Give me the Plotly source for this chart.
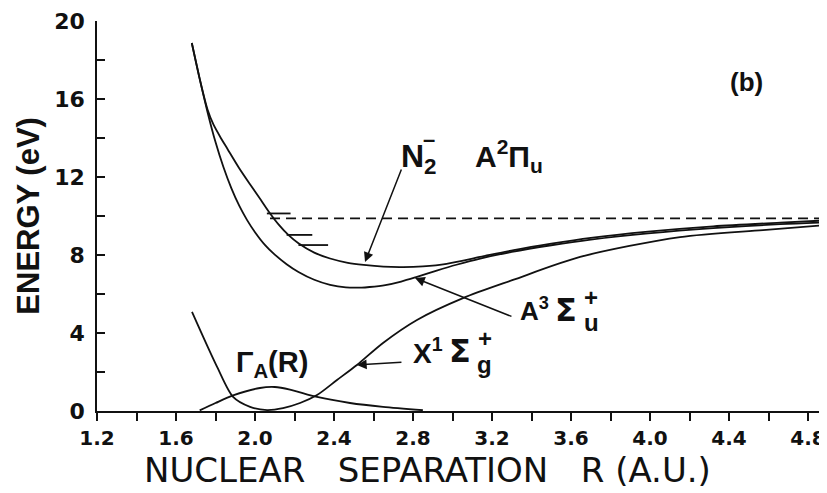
import plotly.graph_objects as go

# ---- data ----
r_anion = [1.68, 1.72, 1.76, 1.79, 1.83, 1.86, 1.92, 1.98, 2.03, 2.07, 2.12, 2.17, 2.22, 2.30, 2.38, 2.47, 2.55, 2.65, 2.75, 2.85, 2.97, 3.14, 3.31, 3.50, 3.70, 3.99, 4.32, 4.66, 4.90]
e_anion = [18.87, 17.03, 15.45, 14.68, 13.95, 13.45, 12.45, 11.55, 10.82, 10.22, 9.56, 9.02, 8.60, 8.12, 7.82, 7.60, 7.49, 7.40, 7.38, 7.42, 7.55, 7.90, 8.25, 8.58, 8.88, 9.20, 9.47, 9.66, 9.78]

r_a3 = [1.68, 1.72, 1.76, 1.80, 1.84, 1.88, 1.92, 1.96, 2.00, 2.05, 2.10, 2.16, 2.22, 2.30, 2.38, 2.46, 2.54, 2.58, 2.66, 2.74, 2.82, 2.92, 3.02, 3.14, 3.30, 3.50, 3.70, 3.99, 4.32, 4.66, 4.90]
e_a3 = [18.87, 17.03, 15.31, 13.79, 12.51, 11.43, 10.53, 9.79, 9.17, 8.52, 8.02, 7.53, 7.13, 6.73, 6.47, 6.34, 6.33, 6.36, 6.46, 6.64, 6.88, 7.20, 7.50, 7.82, 8.16, 8.50, 8.79, 9.11, 9.38, 9.58, 9.68]

r_x1 = [1.681, 1.808, 1.889, 1.975, 2.061, 2.142, 2.228, 2.314, 2.415, 2.516, 2.648, 2.820, 3.053, 3.306, 3.646, 4.152, 4.572, 4.900]
e_x1 = [5.08, 2.26, 0.72, 0.21, 0.05, 0.15, 0.41, 0.82, 1.59, 2.36, 3.49, 4.67, 5.79, 6.72, 7.90, 8.92, 9.28, 9.54]

r_gamma = [1.72, 1.80, 1.889, 2.025, 2.10, 2.177, 2.314, 2.481, 2.648, 2.85]
g_gamma = [0.03, 0.41, 0.80, 1.18, 1.23, 1.10, 0.72, 0.41, 0.21, 0.04]

dissoc_r = [2.076, 4.90]
dissoc_e = [9.88, 9.88]

vib_r_start = [2.060, 2.160, 2.220]
vib_r_end = [2.180, 2.290, 2.370]
vib_e = [10.13, 9.03, 8.51]

x_major = [1.2, 1.6, 2.0, 2.4, 2.8, 3.2, 3.6, 4.0, 4.4, 4.8]
x_labels = ["1.2", "1.6", "2.0", "2.4", "2.8", "3.2", "3.6", "4.0", "4.4", "4.8"]
y_major = [0, 4, 8, 12, 16, 20]
y_labels = ["0", "4", "8", "12", "16", "20"]

BLACK = "#111111"
LW = 1.8
FONT = "Liberation Sans"
TICKFONT = "DejaVu Sans"

fig = go.Figure()

def curve(x, y):
    fig.add_trace(go.Scatter(x=x, y=y, mode="lines",
                             line=dict(color=BLACK, width=LW, shape="spline", smoothing=0.8),
                             showlegend=False, hoverinfo="skip"))

curve(r_anion, e_anion)
curve(r_a3, e_a3)
curve(r_x1, e_x1)
curve(r_gamma, g_gamma)
fig.add_trace(go.Scatter(x=dissoc_r, y=dissoc_e, mode="lines",
                         line=dict(color=BLACK, width=LW, dash="10px,6px"),
                         showlegend=False, hoverinfo="skip"))
for xs, xe, ev in zip(vib_r_start, vib_r_end, vib_e):
    fig.add_trace(go.Scatter(x=[xs, xe], y=[ev, ev], mode="lines",
                             line=dict(color=BLACK, width=LW),
                             showlegend=False, hoverinfo="skip"))

def label(x, y, text, size=26, xanchor="left", yanchor="middle", family=FONT):
    fig.add_annotation(x=x, y=y, xref="x", yref="y", text=text, showarrow=False,
                       xanchor=xanchor, yanchor=yanchor,
                       font=dict(family=family, size=size, color=BLACK, weight="bold"))

def arrow(x_tail, y_tail, x_head, y_head):
    fig.add_annotation(x=x_head, y=y_head, ax=x_tail, ay=y_tail, xref="x", yref="y",
                       axref="x", ayref="y", text="", showarrow=True,
                       arrowhead=2, arrowsize=1.3, arrowwidth=1.5, arrowcolor=BLACK)

# N2- A2Pi_u
label(2.73, 12.95, "N<sub>2</sub>", size=32)
label(2.840, 13.90, "–", size=22)
label(3.105, 13.10, "A<sup>2</sup>Π<sub>u</sub>", size=30)
# A3Sigma_u+
label(3.332, 5.18, "A<sup>3</sup>", size=26)
label(3.510, 5.18, "Σ", size=32, family="DejaVu Sans")
label(3.655, 5.80, "+", size=24)
label(3.655, 4.55, "u", size=24)
# X1Sigma_g+
label(2.790, 3.08, "X<sup>1</sup>", size=28)
label(2.970, 3.08, "Σ", size=32, family="DejaVu Sans")
label(3.120, 3.72, "+", size=24)
label(3.115, 2.40, "g", size=24)
# Gamma_A(R)
label(1.895, 2.42, "Γ<sub>A</sub>(R)", size=29)
# (b)
label(4.49, 16.87, "(b)", size=26, xanchor="center")

arrow(2.744, 12.46, 2.557, 7.64)
arrow(3.306, 4.82, 2.810, 6.82)
arrow(2.749, 2.51, 2.516, 2.36)

# axis titles as annotations
fig.add_annotation(x=-0.095, y=0.5, xref="paper", yref="paper", text="ENERGY (eV)",
                   textangle=-90, showarrow=False, xanchor="center", yanchor="middle",
                   font=dict(family=FONT, size=31, color=BLACK, weight="bold"))
fig.add_annotation(x=(427 - 97) / 730, y=-(470 - 411) / 390, xref="paper", yref="paper",
                   text="NUCLEAR\u00a0\u00a0\u00a0SEPARATION\u00a0\u00a0\u00a0R\u00a0(A.U.)",
                   showarrow=False, xanchor="center", yanchor="middle",
                   font=dict(family="DejaVu Sans", size=34, color=BLACK))

# the page body adds an 8px margin, so the figure is sized to sit where the reference does
fig.update_layout(
    width=819, height=485,
    margin=dict(l=89, r=0, t=13, b=82),
    plot_bgcolor="white", paper_bgcolor="white",
    showlegend=False,
    xaxis=dict(range=[1.2, 4.896], showgrid=False, zeroline=False,
               showline=True, linecolor=BLACK, linewidth=1.6,
               tickmode="array", tickvals=x_major, ticktext=x_labels,
               ticks="outside", ticklen=8, tickwidth=1.5, tickcolor=BLACK,
               minor=dict(ticks="outside", dtick=0.2, tick0=1.2, ticklen=8, tickwidth=1.5, tickcolor=BLACK),
               tickfont=dict(family=TICKFONT, size=20, color=BLACK, weight="bold")),
    yaxis=dict(range=[0, 20], showgrid=False, zeroline=False,
               showline=True, linecolor=BLACK, linewidth=1.6,
               tickmode="array", tickvals=y_major, ticktext=y_labels,
               ticks="inside", ticklen=8, tickwidth=1.5, tickcolor=BLACK,
               minor=dict(ticks="inside", dtick=2, tick0=0, ticklen=8, tickwidth=1.5, tickcolor=BLACK),
               ticklabelstandoff=6,
               tickfont=dict(family=TICKFONT, size=22, color=BLACK, weight="bold")),
)

fig.write_html("out.html")
